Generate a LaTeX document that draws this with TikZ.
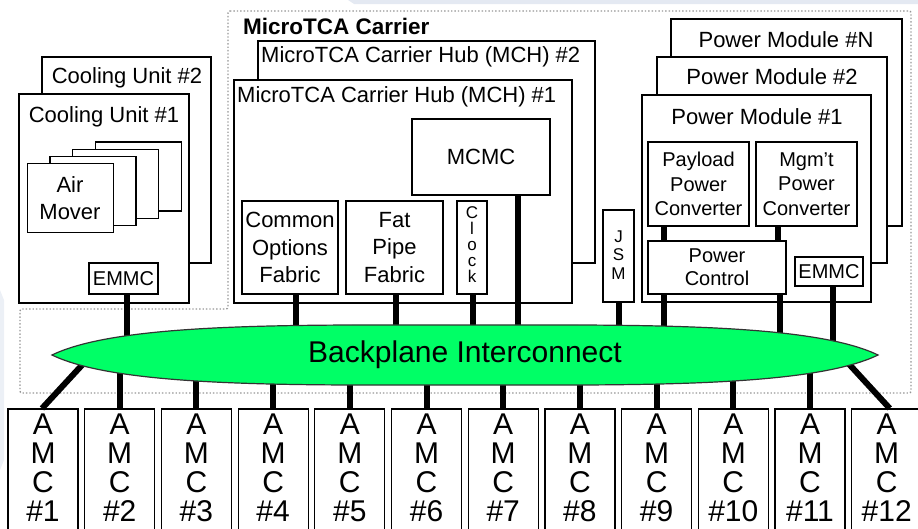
\documentclass[tikz,border=0pt]{standalone}
\usepackage{fontspec}
\setmainfont{Liberation Sans}
\usepackage{xcolor}
\usepackage{tikz}
\usetikzlibrary{calc}
\pgfdeclarelayer{front}
\pgfsetlayers{main,front}
\definecolor{bpgreen}{RGB}{0,255,102}
\definecolor{dotgray}{RGB}{150,150,150}
\definecolor{haze}{RGB}{228,233,242}
\tikzset{
  unit/.style={draw, fill=white, line width=1.2pt, inner sep=0pt},
  sized/.style 2 args={minimum width=#1, minimum height=#2},
  lbl/.style={font=\fontsize{22}{27.5}\selectfont, align=center, inner sep=0pt},
  small/.style={font=\fontsize{20}{24.5}\selectfont, align=center, inner sep=0pt},
  amcbox/.style={unit, sized={70pt}{130pt}},
  amclbl/.style={font=\fontsize{30}{29}\selectfont, align=center, inner sep=0pt},
  bus/.style={line width=6pt},
}

\begin{document}
\begin{tikzpicture}[x=1pt, y=-1pt]
\useasboundingbox (0,0) rectangle (918,528);
\fill[haze] (348,0) -- (918,0) -- (918,4) -- (354,4) -- cycle;
\fill[haze!70] (0,290) -- (4,300) -- (4,460) -- (0,470) -- cycle;
% ---- MicroTCA carrier outline
\draw[dotgray, dotted, line width=1.4pt, rounded corners=2pt]
  (228,11) -- (911,11) -- (911,393) -- (20,393) -- (20,309) -- (228,309) -- cycle;
\node[font=\fontsize{22.5}{26}\selectfont\bfseries, anchor=west, inner sep=0pt] (carrier) at (243,26) {MicroTCA Carrier};
% ---- cooling units
\node[unit, sized={169pt}{206pt}] (cu2) at (126.5,160) {};
\node[lbl] (cu2t) at (127,78) {Cooling Unit \#2};
\node[unit, sized={170pt}{209pt}] (cu1) at (104,198.5) {};
\node[lbl] (cu1t) at (104,117) {Cooling Unit \#1};
\foreach \k in {0,...,3}
  \node[unit, sized={86pt}{69pt}] (am\k) at ({138.5-22.8*\k},{176.5+7.2*\k}) {};
\node[lbl] (amt) at (70,198) {Air\\Mover};
\node[unit, sized={69pt}{31pt}, small] (emmcC) at (123.5,278.5) {EMMC};
% ---- carrier hubs
\node[unit, sized={337pt}{222pt}] (mch2) at (426.5,152) {};
\node[lbl, anchor=west] (mch2t) at (261,57) {MicroTCA Carrier Hub (MCH) \#2};
\node[unit, sized={338pt}{223pt}] (mch1) at (403,191.5) {};
\node[lbl, anchor=west] (mch1t) at (237,97) {MicroTCA Carrier Hub (MCH) \#1};
\node[unit, sized={138pt}{76pt}, lbl] (mcmc) at (481,157) {MCMC};
\node[unit, sized={96pt}{93pt}, lbl] (cof) at (290,247.5) {Common\\Options\\Fabric};
\node[unit, sized={97pt}{93pt}, lbl] (fpf) at (394.5,247.5) {Fat\\Pipe\\Fabric};
\node[unit, sized={30pt}{93pt}] (clk) at (472,247.5) {};
\node[font=\fontsize{17}{16}\selectfont, align=center, inner sep=0pt] (clkt) at (472,245) {C\\l\\o\\c\\k};
\node[unit, sized={31pt}{92pt}] (jsm) at (618.5,256) {};
\node[font=\fontsize{17}{18.5}\selectfont, align=center, inner sep=0pt] (jsmt) at (618.5,255) {J\\S\\M};
% ---- power modules
\node[unit, sized={231pt}{207pt}] (pmN) at (786.5,122.5) {};
\node[lbl] (pmNt) at (786,40) {Power Module \#N};
\node[unit, sized={230pt}{206pt}] (pm2) at (772,160) {};
\node[lbl] (pm2t) at (772,77) {Power Module \#2};
\node[unit, sized={229pt}{207pt}] (pm1) at (756.5,198.5) {};
\node[lbl] (pm1t) at (757,117) {Power Module \#1};
\node[unit, sized={101pt}{84pt}, small] (ppc) at (698.5,184) {Payload\\Power\\Converter};
\node[unit, sized={101pt}{84pt}, small] (mpc) at (806.5,184) {Mgm't\\Power\\Converter};
\node[unit, sized={138pt}{53pt}, small, font=\fontsize{20}{23}\selectfont] (pctl) at (717,267.5) {Power\\Control};
\node[unit, sized={68pt}{29pt}, small] (emmcP) at (829,271.5) {EMMC};
\draw[bus] ([xshift=17pt]ppc.south west) -- ([xshift=17pt]ppc.south west |- pctl.north);
\draw[bus] ([xshift=23pt]mpc.south west) -- ([xshift=23pt]mpc.south west |- pctl.north);
% ---- AMC slots
\foreach \i in {1,...,12} {
  \node[amcbox] (amc\i) at ({43+(\i-1)*76.7},474) {};
  \node[amclbl] (amct\i) at ({43+(\i-1)*76.7},468) {A\\M\\C\\\#\i};
}
% ---- backplane
\begin{pgfonlayer}{front}
\filldraw[fill=bpgreen, draw=black!80, line width=1.2pt]
  (52,355) .. controls (120,322) and (300,325) .. (465,325)
  .. controls (630,325) and (810,322) .. (878,355)
  .. controls (810,388) and (630,385) .. (465,385)
  .. controls (300,385) and (120,388) .. (52,355) -- cycle;
\node[font=\fontsize{30}{30}\selectfont, inner sep=0pt] (bp) at (465,355) {Backplane Interconnect};
\end{pgfonlayer}
\coordinate (bpL) at (95,351);
\coordinate (bpR) at (837,351);
\draw[bus] ([xshift=3pt]emmcC.south) -- ([xshift=3pt]emmcC.south |- bp.center);
\draw[bus] ([xshift=6pt]cof.south) -- ([xshift=6pt]cof.south |- bp.center);
\draw[bus] ([xshift=1.5pt]fpf.south) -- ([xshift=1.5pt]fpf.south |- bp.center);
\draw[bus] ([xshift=1pt]clk.south) -- ([xshift=1pt]clk.south |- bp.center);
\draw[bus] ([xshift=37pt]mcmc.south) -- ([xshift=37pt]mcmc.south |- bp.center);
\draw[bus] ([xshift=0.5pt]jsm.south) -- ([xshift=0.5pt]jsm.south |- bp.center);
\draw[bus] ([xshift=17pt]pctl.south west) -- ([xshift=17pt]pctl.south west |- bp.center);
\draw[bus] ([xshift=-7pt]pctl.south east) -- ([xshift=-7pt]pctl.south east |- bp.center);
\draw[bus] ([xshift=4pt]emmcP.south) -- ([xshift=4pt]emmcP.south |- bp.center);
\draw[bus] ([xshift=-1pt]amc1.north) -- (bpL);
\foreach \i in {2,...,11}
  \draw[bus] (amc\i.north) -- (amc\i.north |- bp.center);
\draw[bus] ([xshift=3pt]amc12.north) -- (bpR);
\end{tikzpicture}
\end{document}
